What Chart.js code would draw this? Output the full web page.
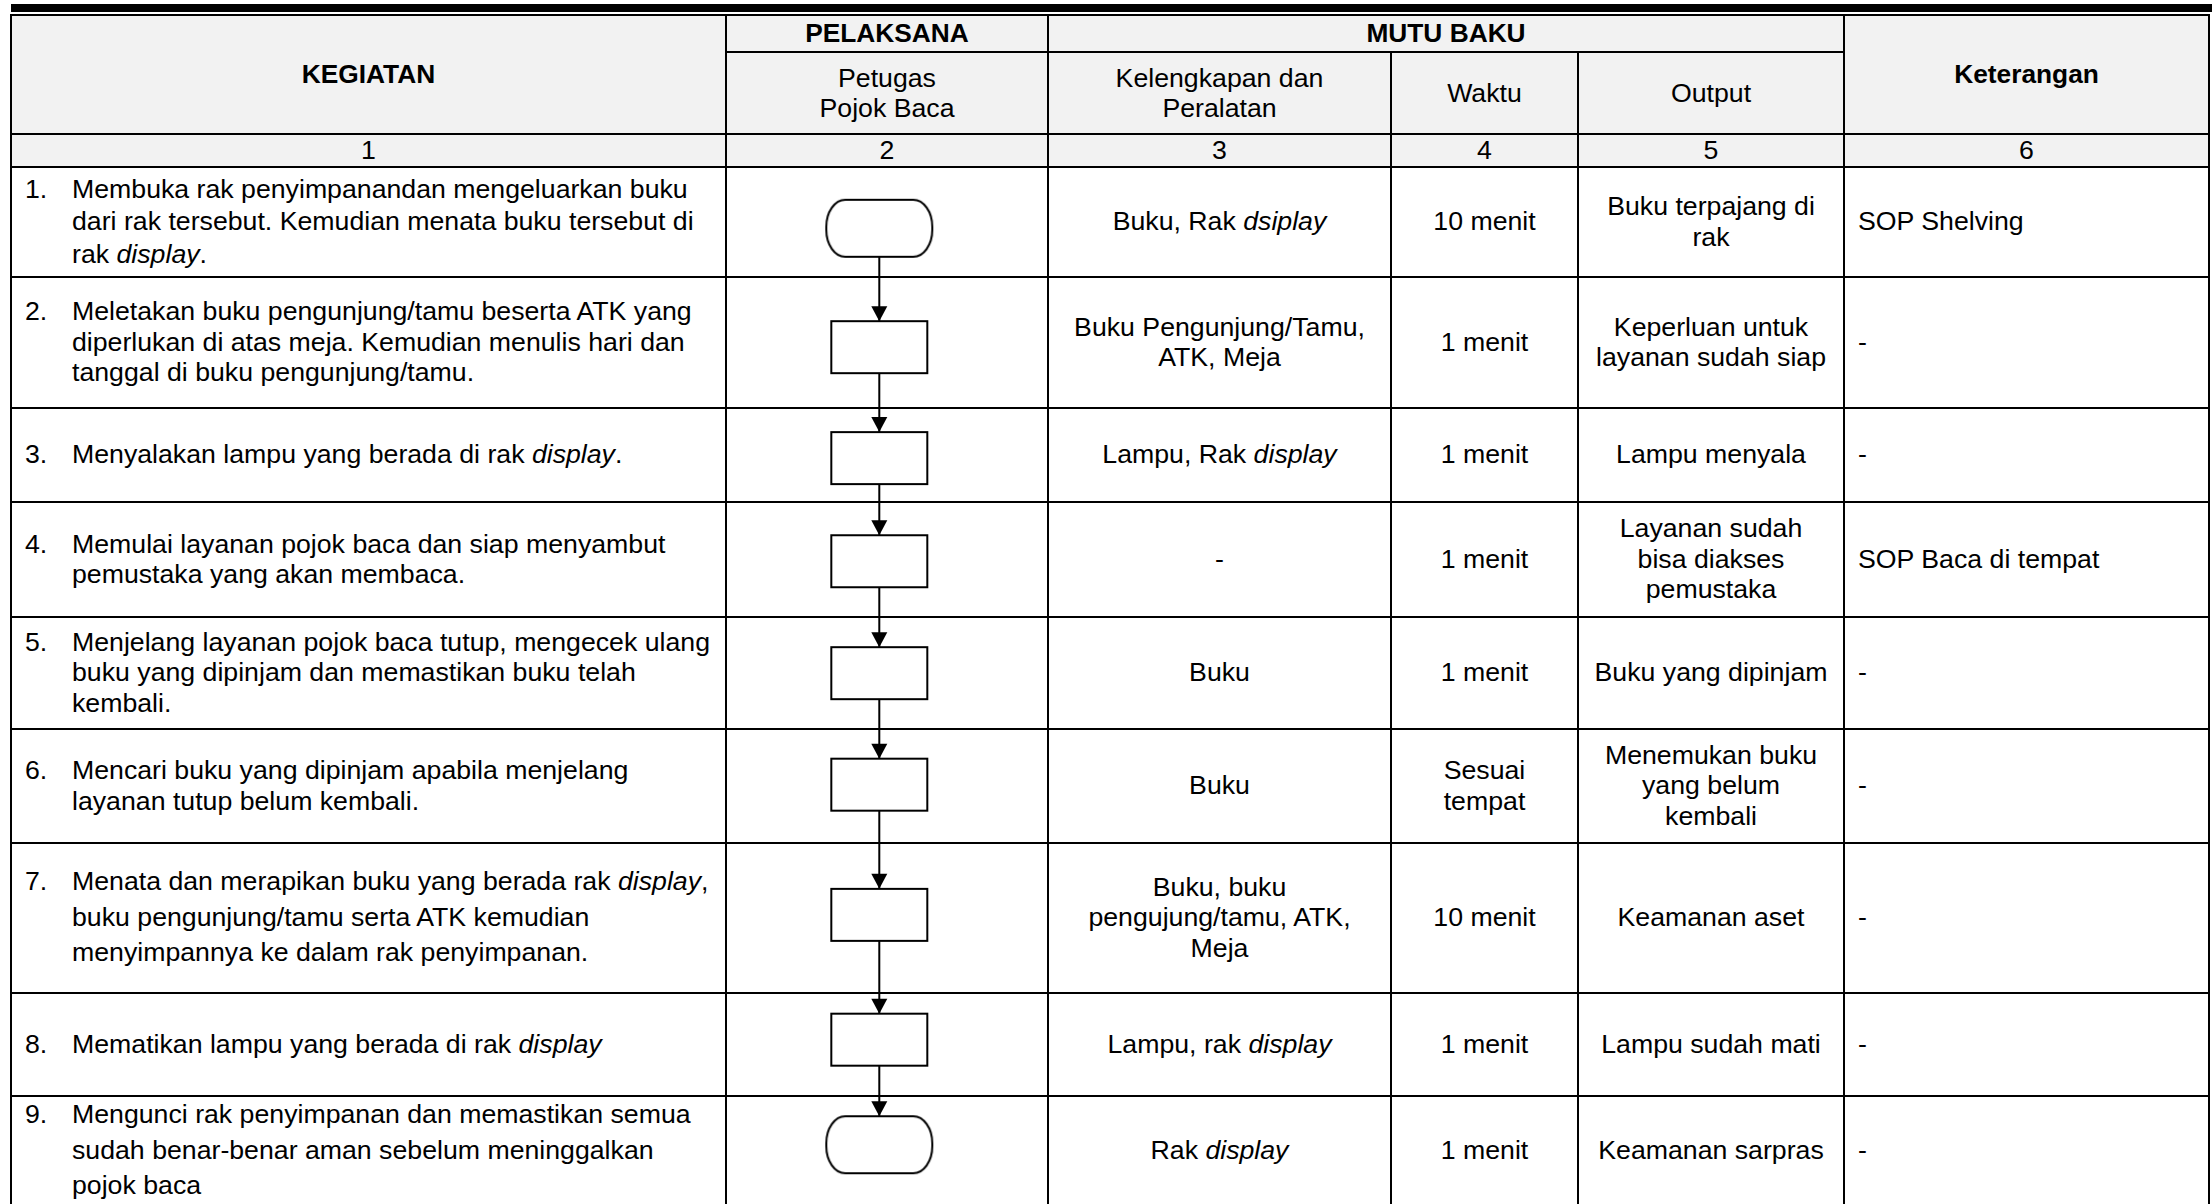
<!DOCTYPE html>
<html lang="id">
<head>
<meta charset="utf-8">
<title>SOP Layanan Pojok Baca</title>
<style>
html, body { margin: 0; padding: 0; background: #fff; overflow: hidden; }
body { width: 2212px; height: 1204px; position: relative; font-family: "Liberation Sans", Arial, sans-serif; color: #000; }
#topBar { position: absolute; left: 11px; top: 4px; width: 2201px; height: 8px; background: #000; }
#sop { position: absolute; left: 10px; top: 14px; width: 2198px; border-collapse: collapse; table-layout: fixed; font-size: 26.7px; line-height: 30.5px; }
#sop td, #sop th { border: 2px solid #000; padding: 0 12px; vertical-align: middle; text-align: center; white-space: nowrap; overflow: hidden; }
#sop thead th { background: #f2f2f2; font-weight: normal; }
#sop thead th.b { font-weight: bold; font-size: 26.3px; }
#sop td.keg { text-align: left; padding-left: 13px; }
#sop td.ket { text-align: left; padding-left: 13px; }
.step { display: flex; }
.step .no { width: 47px; flex: none; }
#flowWrap { position: absolute; }
</style>
</head>
<body>

<div id="topBar"></div>
<table id="sop">
	<colgroup>
		<col style="width:715px"><col style="width:322px"><col style="width:343px">
		<col style="width:187px"><col style="width:266px"><col style="width:365px">
	</colgroup>
	<thead>
		<tr style="height:37px">
			<th class="b" rowspan="2">KEGIATAN</th>
			<th class="b">PELAKSANA</th>
			<th class="b" colspan="3">MUTU BAKU</th>
			<th class="b" rowspan="2">Keterangan</th>
		</tr>
		<tr style="height:82px">
			<th>Petugas<br>Pojok Baca</th>
			<th>Kelengkapan dan<br>Peralatan</th>
			<th>Waktu</th>
			<th>Output</th>
		</tr>
		<tr id="numRow" style="height:30px"></tr>
	</thead>
	<tbody id="body"></tbody>
</table>

<div id="flowWrap"><canvas id="flow"></canvas></div>

<script src="https://cdn.jsdelivr.net/npm/chart.js"></script>
<script>
// column numbers
const colNumbers = ['1', '2', '3', '4', '5', '6'];

// kegiatan, one array of lines per step
const kegiatan = [
	['Membuka rak penyimpanandan mengeluarkan buku', 'dari rak tersebut. Kemudian menata buku tersebut di', 'rak <i>display</i>.'],
	['Meletakan buku pengunjung/tamu beserta ATK yang', 'diperlukan di atas meja. Kemudian menulis hari dan', 'tanggal di buku pengunjung/tamu.'],
	['Menyalakan lampu yang berada di rak <i>display</i>.'],
	['Memulai layanan pojok baca dan siap menyambut', 'pemustaka yang akan membaca.'],
	['Menjelang layanan pojok baca tutup, mengecek ulang', 'buku yang dipinjam dan memastikan buku telah', 'kembali.'],
	['Mencari buku yang dipinjam apabila menjelang', 'layanan tutup belum kembali.'],
	['Menata dan merapikan buku yang berada rak <i>display</i>,', 'buku pengunjung/tamu serta ATK kemudian', 'menyimpannya ke dalam rak penyimpanan.'],
	['Mematikan lampu yang berada di rak <i>display</i>'],
	['Mengunci rak penyimpanan dan memastikan semua', 'sudah benar-benar aman sebelum meninggalkan', 'pojok baca']
];

// flowchart symbol of each step (Petugas Pojok Baca)
const symbols = ['terminator', 'process', 'process', 'process', 'process', 'process', 'process', 'process', 'terminator'];

const kelengkapan = [
	['Buku, Rak <i>dsiplay</i>'],
	['Buku Pengunjung/Tamu,', 'ATK, Meja'],
	['Lampu, Rak <i>display</i>'],
	['-'],
	['Buku'],
	['Buku'],
	['Buku, buku', 'pengujung/tamu, ATK,', 'Meja'],
	['Lampu, rak <i>display</i>'],
	['Rak <i>display</i>']
];

const waktu = [['10 menit'], ['1 menit'], ['1 menit'], ['1 menit'], ['1 menit'], ['Sesuai', 'tempat'], ['10 menit'], ['1 menit'], ['1 menit']];

const output = [
	['Buku terpajang di', 'rak'],
	['Keperluan untuk', 'layanan sudah siap'],
	['Lampu menyala'],
	['Layanan sudah', 'bisa diakses', 'pemustaka'],
	['Buku yang dipinjam'],
	['Menemukan buku', 'yang belum', 'kembali'],
	['Keamanan aset'],
	['Lampu sudah mati'],
	['Keamanan sarpras']
];

const keterangan = ['SOP Shelving', '-', '-', 'SOP Baca di tempat', '-', '-', '-', '-', '-'];

// layout only
const rowHeights = [110, 131, 94, 115, 112, 114, 150, 103, 110];
const kegLineHeights = [32.5, 30.5, 30.5, 30.5, 30.5, 30.5, 35.5, 30.5, 35.5];

// build the table
const numRow = document.getElementById('numRow');
for (let n of colNumbers) {
	let th = document.createElement('th');
	th.textContent = n;
	numRow.appendChild(th);
}

const tbody = document.getElementById('body');
kegiatan.forEach((lines, i) => {
	let tr = document.createElement('tr');
	tr.style.height = rowHeights[i] + 'px';
	tr.innerHTML =
		`<td class="keg"><div class="step" style="line-height:${kegLineHeights[i]}px"><span class="no">${i + 1}.</span><span>${lines.join('<br>')}</span></div></td>` +
		`<td class="flowCell"></td>` +
		`<td>${kelengkapan[i].join('<br>')}</td>` +
		`<td>${waktu[i].join('<br>')}</td>` +
		`<td>${output[i].join('<br>')}</td>` +
		`<td class="ket">${keterangan[i]}</td>`;
	tbody.appendChild(tr);
});

// flowchart symbols as point images
function makeSymbol(kind) {
	const w = kind === 'terminator' ? 106 : 96;
	const h = kind === 'terminator' ? 57 : 52;
	const c = document.createElement('canvas');
	c.width = w + 4;
	c.height = h + 4;
	const g = c.getContext('2d');
	g.beginPath();
	if (kind === 'terminator') g.roundRect(2, 2, w, h, [{x: 19, y: 27}]);
	else g.rect(2, 2, w, h);
	g.fillStyle = '#fff';
	g.fill();
	g.lineWidth = 2;
	g.strokeStyle = '#000';
	g.stroke();
	return c;
}
const symbolImages = symbols.map(makeSymbol);

// place chart over the Pelaksana column
const rows = Array.from(tbody.rows);
const firstCell = rows[0].cells[1].getBoundingClientRect();
const wrap = document.getElementById('flowWrap');
const wrapTop = firstCell.top;
const wrapHeight = 1204 - wrapTop;
wrap.style.left = firstCell.left + 'px';
wrap.style.top = wrapTop + 'px';
wrap.style.width = firstCell.width + 'px';
wrap.style.height = wrapHeight + 'px';

const stepPoints = rows.map(r => {
	let b = r.getBoundingClientRect();
	return {x: 0, y: b.top + b.height / 2 - wrapTop};
});

const arrowHeads = {
	id: 'arrowHeads',
	afterDatasetsDraw(chart) {
		const ctx = chart.ctx;
		const meta = chart.getDatasetMeta(0);
		ctx.save();
		ctx.fillStyle = '#000';
		meta.data.forEach((pt, i) => {
			if (i === 0) return;
			const tip = pt.y - (symbolImages[i].height - 4) / 2;
			ctx.beginPath();
			ctx.moveTo(pt.x, tip);
			ctx.lineTo(pt.x - 8, tip - 15);
			ctx.lineTo(pt.x + 8, tip - 15);
			ctx.closePath();
			ctx.fill();
		});
		ctx.restore();
	}
};

new Chart(document.getElementById('flow'), {
	type: 'scatter',
	data: {
		datasets: [{
			data: stepPoints,
			showLine: true,
			borderColor: '#000',
			borderWidth: 2,
			pointStyle: symbolImages,
			pointRadius: 5,
			clip: false
		}]
	},
	options: {
		responsive: true,
		maintainAspectRatio: false,
		animation: false,
		events: [],
		layout: {padding: 0},
		scales: {
			x: {type: 'linear', display: false, min: -0.95, max: 1.05},
			y: {type: 'linear', display: false, min: 0, max: wrapHeight, reverse: true}
		},
		plugins: {
			legend: {display: false},
			tooltip: {enabled: false}
		}
	},
	plugins: [arrowHeads]
});
</script>
</body>
</html>
